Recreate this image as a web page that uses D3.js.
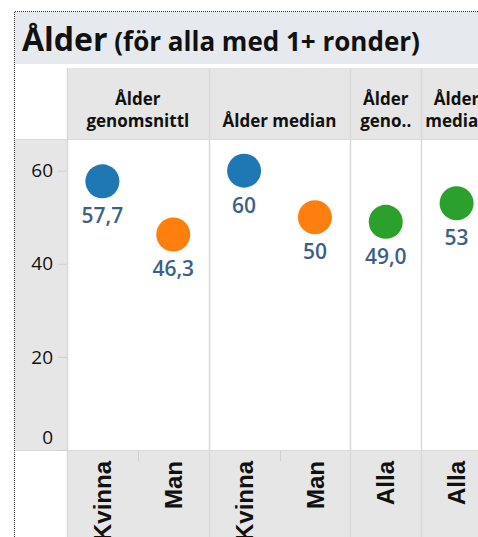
<!doctype html>
<html lang="sv">
<head>
	<meta charset="UTF-8">
	<title>Ålder</title>
	<script src="https://d3js.org/d3.v7.min.js"></script>
	<style>
		body { margin: 0; background: #fff; }
		svg { display: block; }
	</style>
</head>
<body>
	<div id="chart"></div>
	<script>
		// data
		var panels = [['Ålder', 'genomsnittl'], ['Ålder median'], ['Ålder', 'geno..'], ['Ålder', 'media..']]
		var panel_of = [0, 0, 1, 1, 2, 3]
		var categories = ['Kvinna', 'Man', 'Kvinna', 'Man', 'Alla', 'Alla']
		var values = [57.7, 46.3, 60, 50, 49.0, 53]
		var value_labels = ['57,7', '46,3', '60', '50', '49,0', '53']
		var y_ticks = [0, 20, 40, 60]

		var w = 478, h = 537
		var colors = { 'Kvinna': '#1f77b4', 'Man': '#ff7f0e', 'Alla': '#2ca02c' }
		var grey = '#e6e6e6', line_col = '#d9d9d9'

		var plot = { left: 67, top: 139, bottom: 450 }

		var svg = d3.select('#chart').append('svg')
			.attr('width', w).attr('height', h)

		var cols = d3.range(categories.length)
		var x = d3.scaleBand().domain(cols).range([plot.left, 492]).padding(0)
		var y = d3.scaleLinear().domain([0, 66.8]).range([plot.bottom, plot.top])

		/* ------------------------------ backgrounds ------------------------------ */
		svg.append('rect').attr('x', 15).attr('y', 12).attr('width', w - 15).attr('height', 52)
			.attr('fill', '#e6e9ed')
		svg.append('rect').attr('x', plot.left).attr('y', 68).attr('width', w - plot.left).attr('height', plot.top - 68)
			.attr('fill', grey)
		svg.append('rect').attr('x', 15).attr('y', plot.top + 1).attr('width', plot.left - 15).attr('height', plot.bottom - plot.top - 1)
			.attr('fill', grey)
		svg.append('rect').attr('x', plot.left).attr('y', plot.bottom).attr('width', w - plot.left).attr('height', h - plot.bottom)
			.attr('fill', grey)

		// dotted outer border
		svg.append('path')
			.attr('d', 'M14.5,' + h + ' V11.5 H' + w)
			.attr('fill', 'none').attr('stroke', '#333').attr('stroke-width', 1)
			.attr('stroke-dasharray', '1,1')

		/* -------------------------------- title -------------------------------- */
		var title = svg.append('text').attr('x', 22).attr('y', 51)
			.style('font-family', '"Open Sans", sans-serif').style('font-weight', 700).attr('fill', '#111')
		title.append('tspan').text('Ålder').style('font-size', '32px')
		title.append('tspan').text(' (för alla med 1+ ronder)').style('font-size', '26px')

		/* ------------------------------ separators ------------------------------ */
		// horizontal lines
		svg.append('line').attr('x1', 15).attr('x2', w).attr('y1', plot.top + 0.5).attr('y2', plot.top + 0.5)
			.attr('stroke', line_col)
		svg.append('line').attr('x1', 15).attr('x2', w).attr('y1', plot.bottom + 0.5).attr('y2', plot.bottom + 0.5)
			.attr('stroke', line_col)

		// panel boundaries
		var bounds = [plot.left]
		cols.forEach(function (c) {
			if (c > 0 && panel_of[c] != panel_of[c - 1]) bounds.push(x(c))
		})
		svg.selectAll('.sep').data(bounds).join('line')
			.attr('x1', d => Math.round(d) + 0.5).attr('x2', d => Math.round(d) + 0.5)
			.attr('y1', 68).attr('y2', h)
			.attr('stroke', line_col).attr('stroke-width', 1.5)

		// short stubs between categories inside a panel (bottom header)
		cols.forEach(function (c) {
			if (c > 0 && panel_of[c] == panel_of[c - 1]) {
				svg.append('line').attr('x1', Math.round(x(c)) + 0.5).attr('x2', Math.round(x(c)) + 0.5)
					.attr('y1', plot.bottom + 1).attr('y2', plot.bottom + 11)
					.attr('stroke', '#d0d0d0')
			}
		})

		/* ----------------------------- panel headers ----------------------------- */
		panels.forEach(function (lines, p) {
			var pc = cols.filter(c => panel_of[c] == p)
			var cx = (x(pc[0]) + x(pc[pc.length - 1]) + x.bandwidth()) / 2
			var t = svg.append('text').attr('text-anchor', 'middle')
				.style('font-family', '"Open Sans", sans-serif').style('font-weight', 700)
				.style('font-size', '17px').attr('fill', '#111')
			lines.forEach(function (s, i) {
				t.append('tspan').attr('x', cx)
					.attr('y', 127 - (lines.length - 1 - i) * 22)
					.text(s)
			})
		})

		/* -------------------------------- y axis -------------------------------- */
		svg.selectAll('.ytick').data(y_ticks).join('line')
			.attr('x1', 58).attr('x2', plot.left)
			.attr('y1', d => y(d) + 0.5).attr('y2', d => y(d) + 0.5)
			.attr('stroke', '#cfcfcf')
		svg.selectAll('.ylab').data(y_ticks).join('text')
			.attr('x', 53).attr('y', d => d == 0 ? y(d) - 13 : y(d))
			.attr('dy', '0.35em').attr('text-anchor', 'end')
			.style('font-family', '"Open Sans", sans-serif').style('font-size', '19px')
			.attr('fill', '#111')
			.text(d => d)

		/* --------------------------------- marks --------------------------------- */
		var cx_of = c => x(c) + x.bandwidth() / 2

		svg.selectAll('.dot').data(cols).join('circle')
			.attr('cx', cx_of).attr('cy', c => y(values[c]))
			.attr('r', 17)
			.attr('fill', c => colors[categories[c]])

		svg.selectAll('.vlab').data(cols).join('text')
			.attr('x', cx_of).attr('y', c => y(values[c]) + 42)
			.attr('text-anchor', 'middle')
			.style('font-family', '"Open Sans", sans-serif').style('font-weight', 600)
			.style('font-size', '21px').attr('fill', '#3d5f88')
			.text(c => value_labels[c])

		/* ---------------------------- category labels ---------------------------- */
		svg.selectAll('.clab').data(cols).join('text')
			.attr('transform', c => 'translate(' + cx_of(c) + ',' + 461 + ') rotate(-90)')
			.attr('dy', '0.36em').attr('text-anchor', 'end')
			.style('font-family', '"Liberation Sans", Arial, sans-serif').style('font-weight', 700)
			.style('font-size', '24px').attr('fill', '#111')
			.text(c => categories[c])
	</script>
</body>
</html>
